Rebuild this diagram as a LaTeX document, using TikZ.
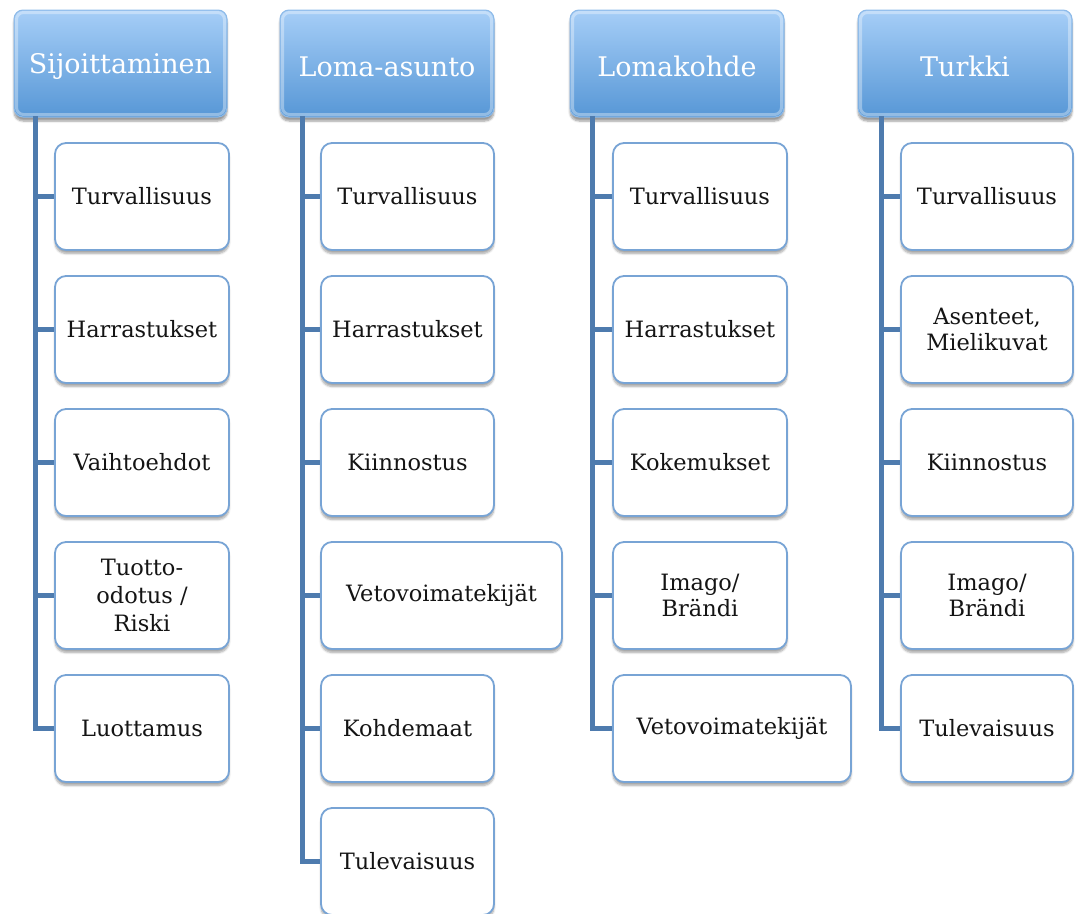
\documentclass[tikz,border=0pt]{standalone}
\usepackage{fontspec}
\setmainfont{DejaVu Serif}
\usetikzlibrary{shadows,shadows.blur}
\definecolor{spine}{HTML}{4E7BAE}
\definecolor{hdtop}{HTML}{A6CEF7}
\definecolor{hdbot}{HTML}{5797D6}
\definecolor{hdline}{HTML}{8DBAE8}
\definecolor{itemline}{HTML}{78A4D5}
\tikzset{
  header/.style={rectangle, rounded corners=9pt, minimum height=107pt,
    top color=hdtop, bottom color=hdbot, draw=hdline, line width=1pt,
    text=white, font=\fontsize{27}{32}\selectfont, inner sep=0pt,
    blur shadow={shadow xshift=0pt, shadow yshift=-4pt, shadow opacity=40, shadow blur steps=6}},
  gloss/.style={draw=white, opacity=0.35, line width=3pt, rounded corners=7pt},
  item/.style={rectangle, rounded corners=11pt, minimum height=107pt,
    fill=white, draw=itemline, line width=1.8pt, align=center,
    text=black!92, font=\fontsize{22.5}{26}\selectfont, inner sep=0pt,
    blur shadow={shadow xshift=0pt, shadow yshift=-3.5pt, shadow opacity=35, shadow blur steps=6}},
  conn/.style={draw=spine, line width=5pt},
}
% header labels sit a little below the middle of their box
\newcommand{\hdtext}[1]{\raisebox{-3pt}[\height][\depth]{#1}}
\begin{document}
\begin{tikzpicture}[x=1pt,y=-1pt]
\useasboundingbox (0,0) rectangle (1083,913);

% ---- headers ----
\node[header, minimum width=213pt] (h1) at (120.5,63.5) {\hdtext{Sijoittaminen}};
\node[header, minimum width=214pt] (h2) at (387,63.5) {\hdtext{Loma-asunto}};
\node[header, minimum width=214pt] (h3) at (677,63.5) {\hdtext{Lomakohde}};
\node[header, minimum width=214pt] (h4) at (965,63.5) {\hdtext{Turkki}};
\foreach \h in {h1,h2,h3,h4}
  \draw[gloss] ([shift={(3pt,-3pt)}]\h.north west) rectangle ([shift={(-3pt,3pt)}]\h.south east);

% ---- spine tops ----
\coordinate (s1) at (35,116);
\coordinate (s2) at (302,116);
\coordinate (s3) at (592,116);
\coordinate (s4) at (881,116);

% ---- column 1 ----
\node[item, minimum width=174pt] (a1) at (142,196.5) {Turvallisuus};
\node[item, minimum width=174pt] (a2) at (142,329.5) {Harrastukset};
\node[item, minimum width=174pt] (a3) at (142,462.5) {Vaihtoehdot};
\node[item, minimum width=174pt, font=\fontsize{22.5}{28}\selectfont] (a4) at (142,595.5) {Tuotto-\\odotus /\\Riski};
\node[item, minimum width=174pt] (a5) at (142,728.5) {Luottamus};

% ---- column 2 ----
\node[item, minimum width=173pt] (b1) at (407.5,196.5) {Turvallisuus};
\node[item, minimum width=173pt] (b2) at (407.5,329.5) {Harrastukset};
\node[item, minimum width=173pt] (b3) at (407.5,462.5) {Kiinnostus};
\node[item, minimum width=241pt] (b4) at (441.5,595.5) {Vetovoimatekijät};
\node[item, minimum width=173pt] (b5) at (407.5,728.5) {Kohdemaat};
\node[item, minimum width=173pt] (b6) at (407.5,861.5) {Tulevaisuus};

% ---- column 3 ----
\node[item, minimum width=174pt] (c1) at (700,196.5) {Turvallisuus};
\node[item, minimum width=174pt] (c2) at (700,329.5) {Harrastukset};
\node[item, minimum width=174pt] (c3) at (700,462.5) {Kokemukset};
\node[item, minimum width=174pt] (c4) at (700,595.5) {Imago/\\Brändi};
\node[item, minimum width=238pt] (c5) at (732,728.5) {Vetovoimatekijät};

% ---- column 4 ----
\node[item, minimum width=172pt] (d1) at (987,196.5) {Turvallisuus};
\node[item, minimum width=172pt] (d2) at (987,329.5) {Asenteet,\\Mielikuvat};
\node[item, minimum width=172pt] (d3) at (987,462.5) {Kiinnostus};
\node[item, minimum width=172pt] (d4) at (987,595.5) {Imago/\\Brändi};
\node[item, minimum width=172pt] (d5) at (987,728.5) {Tulevaisuus};

% ---- connectors ----
\foreach \n in {a1,a2,a3,a4,a5} \draw[conn] (s1) |- (\n.west);
\foreach \n in {b1,b2,b3,b4,b5,b6} \draw[conn] (s2) |- (\n.west);
\foreach \n in {c1,c2,c3,c4,c5} \draw[conn] (s3) |- (\n.west);
\foreach \n in {d1,d2,d3,d4,d5} \draw[conn] (s4) |- (\n.west);
\end{tikzpicture}
\end{document}
